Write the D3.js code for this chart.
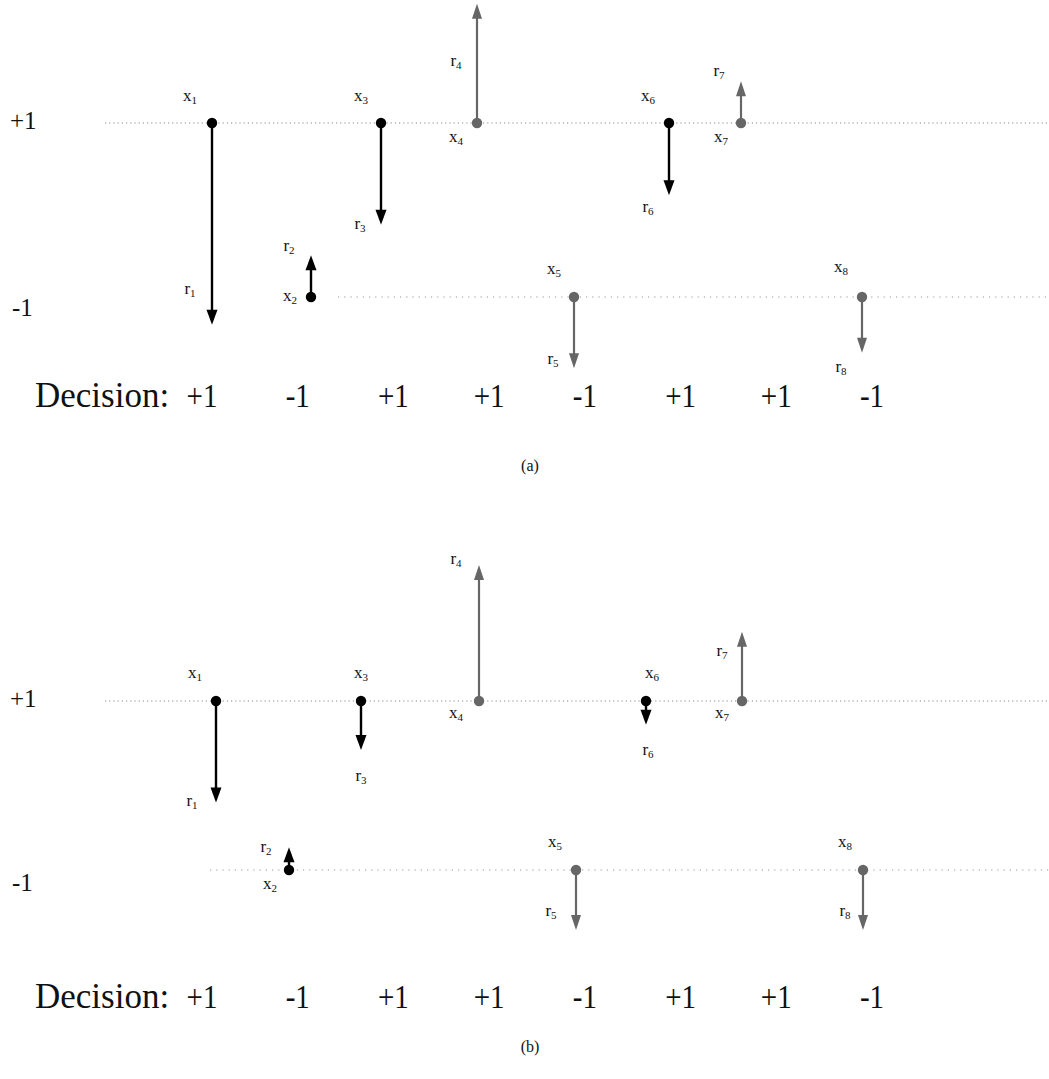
<!DOCTYPE html>
<html><head><meta charset="utf-8">
<script src="https://cdn.jsdelivr.net/npm/d3@7"></script>
<style>body{margin:0;background:#fff}svg{display:block}text{font-family:"Liberation Serif","Times New Roman",serif;fill:#111}</style>
</head><body>
<script>
// ---- data ----
const pointNames = ["1","2","3","4","5","6","7","8"];
const classLabels = [1, -1, 1, 1, -1, 1, 1, -1];          // each x_i sits on +1 or -1
const pointTone = ["dark","dark","dark","gray","gray","dark","gray","gray"];
const decisions = ["+1","-1","+1","+1","-1","+1","+1","-1"];
const levelTicks = ["+1","-1"];
// panel (a)
const xPosA = [2.12, 3.11, 3.81, 4.77, 5.74, 6.69, 7.41, 8.62];
const tipA  = [-1.32, -0.52, -0.17, 2.37, -1.82, 0.17, 1.48, -1.64];
// panel (b)
const xPosB = [2.16, 2.89, 3.61, 4.79, 5.76, 6.46, 7.42, 8.63];
const tipB  = [-0.20, -0.73, 0.42, 2.61, -1.71, 0.72, 1.82, -1.71];

// ---- label placement (layout only) ----
const xLabOffA = [[-22,-26],[-21,0],[-20,-26],[-21,15],[-20,-27],[-21,-26],[-20,15],[-21,-29]];
const rLabOffA = [[-22,-35],[-22,-8],[-21,0],[-21,58],[-21,-8],[-21,13],[-22,-9],[-21,15]];
const xLabOffB = [[-21,-27],[-19,15],[0,-27],[-23,13],[-21,-27],[6,-27],[-20,13],[-18,-27]];
const rLabOffB = [[-24,0],[-23,1],[0,27],[-23,-5],[-25,-18],[2,26],[-20,20],[-18,-18]];

const W = 1049, H = 1079;
const svg = d3.select("body").append("svg").attr("width", W).attr("height", H);
const xs = d3.scaleLinear().domain([0, 10]).range([0, 1000]);
const decX = d3.scalePoint().domain(d3.range(8)).range([202, 872]);

function subLabel(g, x, y, main, sub) {
  const t = g.append("text").attr("x", x).attr("y", y).attr("text-anchor", "middle")
    .attr("dominant-baseline", "middle").style("font-size", "17px");
  t.append("tspan").text(main);
  t.append("tspan").text(sub).attr("dy", 4).style("font-size", "11px");
}

function panel(cfg) {
  const g = svg.append("g");
  const y = d3.scaleLinear().domain([-1, 1]).range([cfg.yMinus, cfg.yPlus]);
  // dotted level lines
  g.append("line").attr("x1", 105).attr("x2", W).attr("y1", y(1)).attr("y2", y(1))
    .attr("stroke", "#8a8a8a").attr("stroke-width", 1).attr("stroke-dasharray", "1.2,3");
  g.append("line").attr("x1", cfg.minusStart).attr("x2", W).attr("y1", y(-1)).attr("y2", y(-1))
    .attr("stroke", "#9a9a9a").attr("stroke-width", 1).attr("stroke-dasharray", "1.2,5");
  // level tick labels
  levelTicks.forEach((t, i) => {
    const v = i === 0 ? 1 : -1;
    g.append("text").attr("x", i === 0 ? 10 : 12).attr("y", y(v) + (i === 0 ? 0 : cfg.minusLabDy))
      .attr("dominant-baseline", "middle").style("font-size", "25px").text(t);
  });
  // arrows
  pointNames.forEach((n, i) => {
    const px = xs(cfg.xPos[i]), py = y(classLabels[i]), ty = y(cfg.tip[i]);
    const col = pointTone[i] === "dark" ? "#000" : "#666";
    const dir = ty > py ? 1 : -1;
    const headLen = Math.min(15, Math.abs(ty - py));
    const hw = pointTone[i] === "dark" ? 5.5 : 5;
    g.append("line").attr("x1", px).attr("x2", px).attr("y1", py).attr("y2", ty - dir * headLen * 0.8)
      .attr("stroke", col).attr("stroke-width", pointTone[i] === "dark" ? 2.4 : 2.2);
    g.append("path").attr("d", `M${px},${ty} L${px - hw},${ty - dir * headLen} L${px + hw},${ty - dir * headLen} Z`)
      .attr("fill", col);
    g.append("circle").attr("cx", px).attr("cy", py).attr("r", 5.2).attr("fill", col);
    subLabel(g, px + cfg.xLab[i][0], py + cfg.xLab[i][1], "x", n);
    subLabel(g, px + cfg.rLab[i][0], ty + cfg.rLab[i][1], "r", n);
  });
  // decision row
  g.append("text").attr("x", 35).attr("y", cfg.decY).attr("dominant-baseline", "middle")
    .style("font-size", "35px").text("Decision:");
  decisions.forEach((d, i) => {
    g.append("text").attr("transform", `translate(${decX(i)},${cfg.decY}) scale(0.88,1)`)
      .attr("text-anchor", "middle")
      .attr("dominant-baseline", "middle").style("font-size", "33px").text(d);
  });
  g.append("text").attr("x", 530).attr("y", cfg.capY).attr("text-anchor", "middle")
    .attr("dominant-baseline", "middle").style("font-size", "16px").text(cfg.caption);
}

panel({yPlus: 123, yMinus: 297, minusStart: 338, minusLabDy: 13, xPos: xPosA, tip: tipA,
       xLab: xLabOffA, rLab: rLabOffA, decY: 399, capY: 467, caption: "(a)"});
panel({yPlus: 701, yMinus: 870, minusStart: 210, minusLabDy: 15, xPos: xPosB, tip: tipB,
       xLab: xLabOffB, rLab: rLabOffB, decY: 1000, capY: 1048, caption: "(b)"});
</script>
</body></html>
